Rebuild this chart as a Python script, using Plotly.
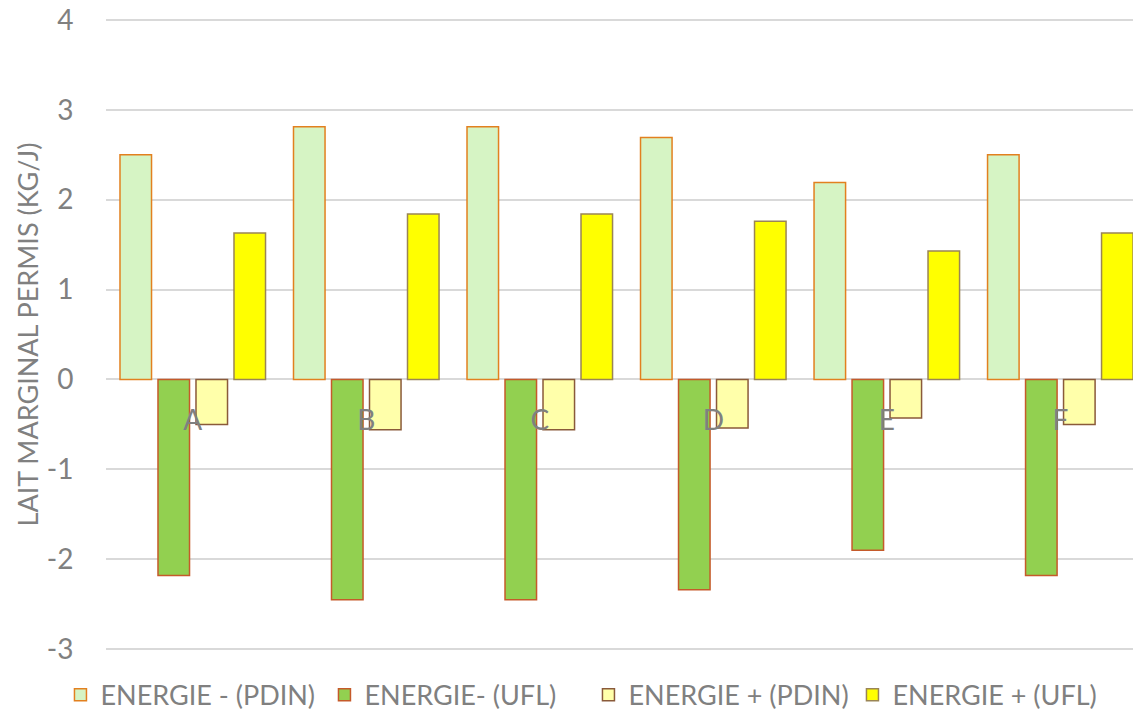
import plotly.graph_objects as go

categories = ["A", "B", "C", "D", "E", "F"]
energie_moins_pdin = [2.50, 2.81, 2.81, 2.69, 2.19, 2.50]
energie_moins_ufl = [-2.18, -2.45, -2.45, -2.34, -1.90, -2.18]
energie_plus_pdin = [-0.50, -0.56, -0.56, -0.54, -0.43, -0.50]
energie_plus_ufl = [1.63, 1.84, 1.84, 1.76, 1.43, 1.63]
series_names = ["ENERGIE - (PDIN)", "ENERGIE- (UFL)", "ENERGIE + (PDIN)", "ENERGIE + (UFL)"]
y_ticks = [-3, -2, -1, 0, 1, 2, 3, 4]
y_tick_labels = ["-3", "-2", "-1", "0", "1", "2", "3", "4"]

fills = ["#d6f4c4", "#92d050", "#ffffaa", "#ffff00"]
borders = ["#e2801f", "#c55a2a", "#8a5a3a", "#9a8555"]
series = [energie_moins_pdin, energie_moins_ufl, energie_plus_pdin, energie_plus_ufl]

FONT = "Lato"
GRAY = "#808080"
YMIN, YMAX = -3.02, 4.02

fig = go.Figure()
for name, vals, fc, bc in zip(series_names, series, fills, borders):
    fig.add_trace(go.Bar(
        x=categories, y=vals, name=name,
        marker=dict(color=fc, line=dict(color=bc, width=1.5)),
    ))

fig.update_layout(
    width=1133, height=703,
    margin=dict(l=98, r=0, t=10, b=60, autoexpand=False),
    paper_bgcolor="white", plot_bgcolor="white",
    barmode="group", bargap=0.124, bargroupgap=0.17,
    font=dict(family=FONT, color=GRAY, size=26),
    showlegend=True,
    legend=dict(orientation="h", x=-0.044, xanchor="left", y=-0.070, yanchor="middle",
                font=dict(family=FONT, size=27, color=GRAY), traceorder="normal",
                itemwidth=30, entrywidth=219, entrywidthmode="pixels",
                bgcolor="rgba(0,0,0,0)"),
    xaxis=dict(
        type="category", range=[-0.5, 5.465], anchor="free", position=-YMIN / (YMAX - YMIN),
        showgrid=False, showline=False, zeroline=False,
        ticks="outside", ticklen=16, tickcolor="rgba(0,0,0,0)",
        tickfont=dict(family=FONT, size=28, color=GRAY),
    ),
    yaxis=dict(
        range=[YMIN, YMAX], tickvals=y_ticks, ticktext=y_tick_labels, domain=[0, 1],
        showgrid=True, gridcolor="#d9d9d9", gridwidth=1.5,
        zeroline=True, zerolinecolor="#d9d9d9", zerolinewidth=1.5,
        showline=False, ticklabeloverflow="allow",
        ticks="outside", ticklen=26, tickcolor="rgba(0,0,0,0)",
        tickfont=dict(family=FONT, size=28, color=GRAY),
        title=dict(text="LAIT MARGINAL PERMIS (KG/J)", font=dict(family=FONT, size=27, color=GRAY), standoff=0),
    ),
)

fig.write_html("out.html")
